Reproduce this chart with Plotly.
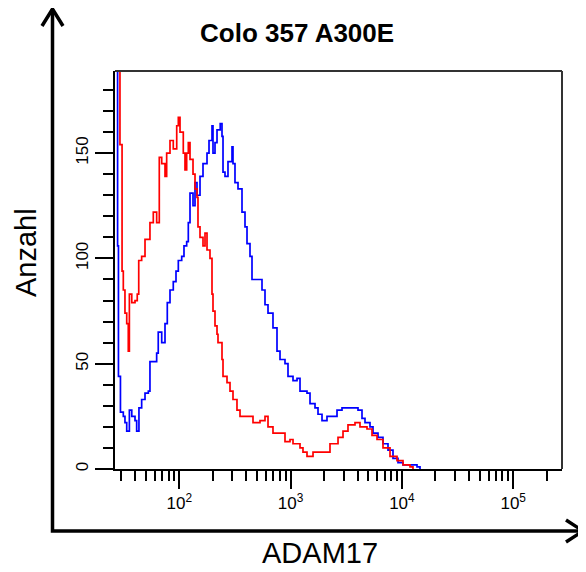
import plotly.graph_objects as go

# ---- data (fluorescence intensity, counts) ----
red_x = [27.6, 29.3, 30.6, 31.4, 32.5, 33.7, 34.8, 35.6, 37.4, 40.0, 41.9, 43.2, 45.9, 49.2,
         52.7, 54.5, 58.4, 62.6, 66.1, 69.5, 74.4, 77.0, 82.5, 88.3, 94.8, 98.0, 101.5, 108.6,
         112.5, 116.5, 120.5, 124.8, 132.8, 138.4, 144.2, 147.2, 153.5, 163.3, 170.2, 177.4,
         188.7, 196.7, 200.8, 209.3, 218.2, 222.7, 241.9, 247.0, 268.3, 285.5, 303.7, 329.8,
         351.1, 389.3, 431.7, 459.4, 531.0, 588.8, 626.6, 694.7, 803.2, 890.6, 987.7, 1051,
         1142, 1215, 1292, 1404, 1590, 1956, 2259, 2667, 2957, 3278, 3790, 4202, 4858, 5388,
         5976, 6764, 7819, 9037, 10230, 11824, 12579]
red_y = [250, 154, 94, 85, 74, 69, 56, 83, 79, 80, 83, 99, 101, 109,
         109, 117, 122, 117, 148, 145, 139, 150, 156, 152, 163, 167, 160, 150,
         142, 150, 155, 147, 140, 133, 129, 115, 110, 106, 112, 104,
         100, 83, 75, 68, 64, 60, 52, 44, 41, 37, 33, 28,
         25, 25, 25, 22, 23, 25, 20, 17, 17, 13, 14, 12,
         12, 10, 8, 6, 8, 8, 12, 15, 18, 21, 22, 20, 19, 16,
         14, 10, 6, 4, 2, 1, 0]

blue_x = [27.0, 27.9, 28.4, 29.6, 31.4, 32.5, 33.7, 35.6, 37.4, 40.0, 41.4, 43.4, 45.9, 49.2,
          52.7, 54.5, 58.4, 62.6, 64.7, 69.5, 74.4, 78.0, 82.5, 88.3, 93.4, 98.0, 105.1, 110.2,
          116.5, 120.5, 124.8, 132.8, 138.4, 144.2, 153.5, 163.3, 177.4, 184.9, 196.7, 200.8,
          209.3, 218.2, 233.1, 241.9, 247.0, 257.4, 273.8, 297.5, 303.7, 316.5, 336.9, 365.9,
          389.3, 405.8, 431.7, 450.0, 509.4, 553.4, 588.8, 626.6, 694.7, 754.8, 803.2, 890.6,
          947.6, 1051, 1142, 1215, 1404, 1494, 1657, 1763, 1915, 2123, 2355, 2612, 2896, 3082,
          3418, 3790, 4032, 4380, 4661, 5169, 5500, 6100, 6764, 7501, 8318, 9225, 10230, 11824,
          13670, 14540]
blue_y = [250, 106, 44, 27, 25, 22, 18, 28, 25, 23, 18, 29, 33, 36,
          37, 51, 51, 55, 65, 60, 69, 79, 85, 89, 94, 99, 101, 106,
          108, 117, 131, 125, 136, 130, 139, 145, 150, 156, 163, 150,
          155, 161, 164, 158, 141, 139, 146, 153, 145, 136, 133, 122,
          115, 107, 101, 90, 90, 85, 78, 74, 67, 56, 52, 50,
          44, 42, 43, 37, 36, 31, 29, 26, 23, 25, 25, 28, 29, 29,
          29, 29, 28, 24, 22, 20, 17, 15, 12, 9, 5, 3, 2, 2,
          1, 0]

x_major = [100, 1000, 10000, 100000]
x_major_text = ["10<sup>2</sup>", "10<sup>3</sup>", "10<sup>4</sup>", "10<sup>5</sup>"]
x_minor = [30, 40, 50, 60, 70, 80, 90,
           200, 300, 400, 500, 600, 700, 800, 900,
           2000, 3000, 4000, 5000, 6000, 7000, 8000, 9000,
           20000, 30000, 40000, 50000, 60000, 70000, 80000, 90000, 200000]
y_major = [0, 50, 100, 150]

title_text = "Colo 357 A300E"
x_title = "ADAM17"
y_title = "Anzahl"

# ---- layout geometry (page pixels); the page body adds an 8px offset ----
OFF = 8
W, H = 586 - OFF, 572 - OFF
L, R, T, B = 115 - OFF, 562 - OFF, 71 - OFF, 469 - OFF


def px(x):
    return (x - OFF - L) / (R - L)


def py(y):
    return (B - (y - OFF)) / (B - T)


fig = go.Figure()
fig.add_trace(go.Scatter(x=blue_x, y=blue_y, mode="lines", line=dict(color="#0000ff", width=1.7, shape="hv"),
                         showlegend=False, hoverinfo="skip"))
fig.add_trace(go.Scatter(x=red_x, y=red_y, mode="lines", line=dict(color="#ff0000", width=1.7, shape="hv"),
                         showlegend=False, hoverinfo="skip"))

font_main = "Liberation Sans, Arial, sans-serif"

fig.update_layout(
    width=W, height=H,
    margin=dict(l=L, r=W - R, t=T, b=H - B, pad=0),
    paper_bgcolor="white", plot_bgcolor="white",
    font=dict(family=font_main, color="black"),
    xaxis=dict(type="log", range=[1.4223, 5.4384], showgrid=False, zeroline=False,
               showline=True, linecolor="black", linewidth=2,
               tickmode="array", tickvals=x_major, ticktext=x_major_text,
               ticks="outside", ticklen=18, tickwidth=2, tickcolor="black",
               tickfont=dict(size=17, family=font_main),
               minor=dict(tickmode="array", tickvals=x_minor, ticks="outside", ticklen=10,
                          tickwidth=2, tickcolor="black", showgrid=False)),
    yaxis=dict(range=[0, 189], showgrid=False, zeroline=False,
               showline=True, linecolor="black", linewidth=2,
               tickmode="array", tickvals=y_major, tickangle=-90,
               ticks="outside", ticklen=18, tickwidth=2, tickcolor="black",
               tickfont=dict(size=17, family=font_main),
               minor=dict(dtick=10, tick0=0, ticks="outside", ticklen=10,
                          tickwidth=2, tickcolor="black", showgrid=False)),
)

# frame top/right
fig.add_shape(type="line", xref="paper", yref="paper", x0=0, y0=1, x1=1, y1=1,
              line=dict(color="#333333", width=2))
fig.add_shape(type="line", xref="paper", yref="paper", x0=1, y0=1, x1=1, y1=0,
              line=dict(color="#333333", width=2))

# big arrows
cx, cy = 52.5, 531
fig.add_shape(type="path", xref="paper", yref="paper",
              path=f"M {px(cx)} {py(9)} L {px(cx)} {py(cy)} L {px(583)} {py(cy)}",
              line=dict(color="black", width=3.5))
fig.add_shape(type="path", xref="paper", yref="paper",
              path=f"M {px(42)} {py(26)} L {px(cx)} {py(9)} L {px(63)} {py(26)}",
              line=dict(color="black", width=3.5))
fig.add_shape(type="path", xref="paper", yref="paper",
              path=f"M {px(566)} {py(520)} L {px(583)} {py(cy)} L {px(566)} {py(542)}",
              line=dict(color="black", width=3.5))

fig.add_annotation(text=f"<b>{title_text}</b>", xref="paper", yref="paper", x=px(297), y=py(33),
                   showarrow=False, font=dict(size=26, family=font_main, color="black"),
                   xanchor="center", yanchor="middle")
fig.add_annotation(text=x_title, xref="paper", yref="paper", x=px(320), y=py(553),
                   showarrow=False, font=dict(size=29, family=font_main, color="black"),
                   xanchor="center", yanchor="middle")
fig.add_annotation(text=y_title, xref="paper", yref="paper", x=px(26), y=py(253),
                   showarrow=False, textangle=-90, font=dict(size=29, family=font_main, color="black"),
                   xanchor="center", yanchor="middle")

fig.write_html("out.html")
